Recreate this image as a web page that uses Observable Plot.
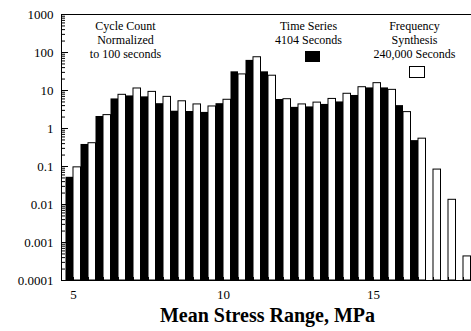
<!DOCTYPE html>
<html>
<head>
<meta charset="utf-8">
<script src="https://cdn.jsdelivr.net/npm/d3@7"></script>
<script src="https://cdn.jsdelivr.net/npm/@observablehq/plot@0.6"></script>
<style>
  html, body { margin: 0; padding: 0; background: white; }
  #chart svg, #chart svg text { font-family: "Liberation Serif", serif; }
</style>
</head>
<body>
<div id="chart"></div>
<script>
// Bin centres of the mean stress range (MPa)
const binCenters = [5, 5.5, 6, 6.5, 7, 7.5, 8, 8.5, 9, 9.5, 10, 10.5, 11, 11.5, 12,
  12.5, 13, 13.5, 14, 14.5, 15, 15.5, 16, 16.5, 17, 17.5, 18];

// Cycle counts normalized to 100 seconds
const timeSeries = [0.052, 0.38, 2.07, 6.0, 7.2, 6.8, 4.5, 2.85, 2.8, 2.65, 4.5, 31, 62,
  31, 5.8, 3.6, 3.7, 4.3, 5.0, 7.4, 11.7, 11.7, 4.0, 0.48, null, null, null];
const frequencySynthesis = [0.095, 0.41, 2.25, 7.7, 11.3, 9.2, 6.8, 5.2, 4.3, 3.8, 5.7, 26.5, 75,
  24.5, 5.9, 4.3, 4.8, 6.0, 8.2, 12.2, 15.6, 10.4, 2.7, 0.54, 0.083, 0.0133, 0.00043];

// Axis ticks
const yDecades = [0.0001, 0.001, 0.01, 0.1, 1, 10, 100, 1000];
const xLabelTicks = [5, 10, 15];

const X_DOMAIN = [4.6, 18.2667];
const Y_DOMAIN = [0.0001, 1000];
const HALF = 0.25; // each series takes half of a 0.5 MPa bin

const rows = binCenters.map((c, i) => ({c, ts: timeSeries[i], fs: frequencySynthesis[i]}));
const yMinor = yDecades.slice(0, -1).flatMap(d => [2, 3, 4, 5, 6, 7, 8, 9].map(k => d * k));
const xMinor = binCenters;

const serif = "Liberation Serif";

const note = (text, dx, dy) => Plot.text([text], {
  text: d => d, frameAnchor: "top-left", dx, dy, fontSize: 12, lineHeight: 1.17,
  textAnchor: "middle", lineAnchor: "middle", fontFamily: serif
});

const chart = Plot.plot({
  width: 471,
  height: 331,
  marginTop: 14,
  marginBottom: 51,
  marginLeft: 61,
  marginRight: 0,
  style: "font-family: 'Liberation Serif', serif; font-size: 13px; background: white; color: black;",
  x: {domain: X_DOMAIN},
  y: {type: "log", domain: Y_DOMAIN},
  marks: [
    Plot.rect(rows.filter(d => d.ts != null), {
      x1: d => d.c - HALF, x2: d => d.c, y1: Y_DOMAIN[0], y2: "ts", fill: "black"
    }),
    Plot.rect(rows.filter(d => d.fs != null), {
      x1: d => d.c, x2: d => d.c + HALF, y1: Y_DOMAIN[0], y2: "fs",
      fill: "white", stroke: "black", strokeWidth: 1
    }),
    // frame: top, bottom and left edges
    Plot.ruleY([Y_DOMAIN[1]], {stroke: "black"}),
    Plot.ruleY([Y_DOMAIN[0]], {stroke: "black"}),
    Plot.ruleX([X_DOMAIN[0]], {stroke: "black"}),
    // y axis: labels and inward ticks
    Plot.axisY({ticks: yDecades, tickFormat: d => String(d), tickSize: 0, tickPadding: 8, label: null, fontSize: 13, fontFamily: serif}),
    Plot.axisY({ticks: yDecades, tickFormat: () => "", tickSize: -7, label: null}),
    Plot.axisY({ticks: yMinor, tickFormat: () => "", tickSize: -4, label: null}),
    // x axis
    Plot.axisX({ticks: xLabelTicks, tickFormat: d => String(d), tickSize: 0, tickPadding: 9, label: null, fontSize: 13, fontFamily: serif}),
    Plot.axisX({ticks: xMinor, tickFormat: () => "", tickSize: -3, label: null}),
    // annotations
    note("Cycle Count\nNormalized\nto 100 seconds", 64, 25),
    note("Time Series\n4104 Seconds", 247, 18),
    note("Frequency\nSynthesis\n240,000 Seconds", 353, 25),
    Plot.text(["Mean Stress Range, MPa"], {
      text: d => d, frameAnchor: "bottom", dy: 41, dx: 1, fontSize: 20, fontWeight: "bold", fontFamily: serif
    })
  ]
});

// legend swatches
const svg = d3.select(chart);
svg.append("rect").attr("x", 305).attr("y", 51).attr("width", 15).attr("height", 11).attr("fill", "black");
svg.append("rect").attr("x", 409.5).attr("y", 66.5).attr("width", 15).attr("height", 11)
  .attr("fill", "white").attr("stroke", "black");

document.getElementById("chart").appendChild(chart);
</script>
</body>
</html>
